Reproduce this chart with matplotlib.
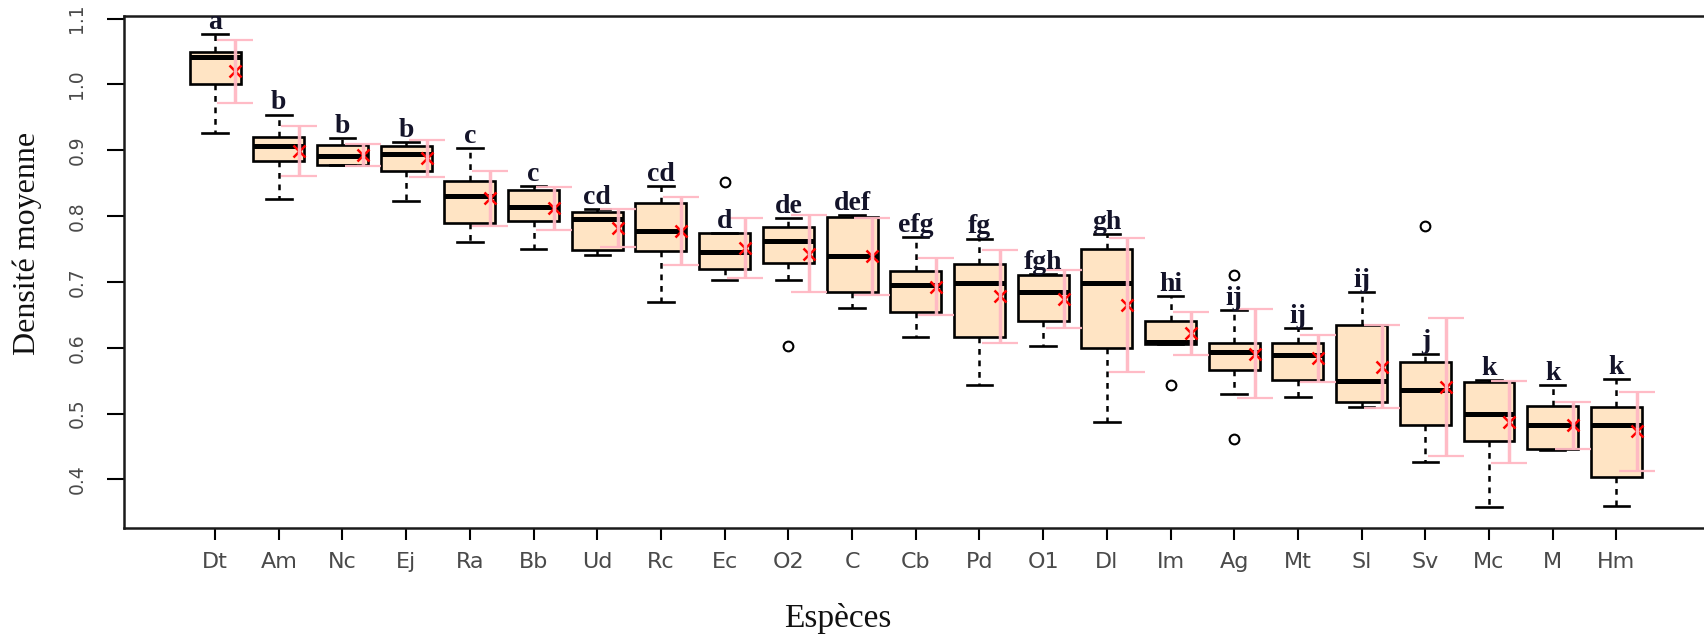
import matplotlib
matplotlib.use('Agg')
import matplotlib.pyplot as plt
from matplotlib import font_manager

# density per species
species = ['Dt', 'Am', 'Nc', 'Ej', 'Ra', 'Bb', 'Ud', 'Rc', 'Ec', 'O2', 'C', 'Cb',
           'Pd', 'O1', 'Dl', 'Im', 'Ag', 'Mt', 'Sl', 'Sv', 'Mc', 'M', 'Hm']
letters = ['a', 'b', 'b', 'b', 'c', 'c', 'cd', 'cd', 'd', 'de', 'def', 'efg',
           'fg', 'fgh', 'gh', 'hi', 'ij', 'ij', 'ij', 'j', 'k', 'k', 'k']

whis_lo = [0.926, 0.826, 0.877, 0.823, 0.760, 0.750, 0.741, 0.670, 0.703, 0.703, 0.660, 0.617,
           0.544, 0.603, 0.488, 0.605, 0.530, 0.525, 0.510, 0.427, 0.358, 0.445, 0.360]
q1 = [1.000, 0.883, 0.877, 0.869, 0.789, 0.793, 0.749, 0.747, 0.720, 0.729, 0.684, 0.655,
      0.617, 0.640, 0.600, 0.606, 0.567, 0.551, 0.517, 0.482, 0.458, 0.446, 0.403]
median = [1.041, 0.907, 0.892, 0.894, 0.831, 0.814, 0.796, 0.778, 0.745, 0.762, 0.740, 0.695,
          0.698, 0.685, 0.698, 0.609, 0.594, 0.589, 0.549, 0.536, 0.500, 0.482, 0.482]
q3 = [1.050, 0.920, 0.908, 0.907, 0.853, 0.840, 0.807, 0.820, 0.774, 0.784, 0.799, 0.716,
      0.727, 0.710, 0.750, 0.640, 0.608, 0.608, 0.634, 0.578, 0.548, 0.511, 0.510]
whis_hi = [1.077, 0.954, 0.918, 0.912, 0.903, 0.846, 0.811, 0.846, 0.774, 0.797, 0.802, 0.768,
           0.766, 0.712, 0.773, 0.678, 0.657, 0.630, 0.684, 0.591, 0.551, 0.543, 0.552]
outliers = {'Ec': [0.852], 'O2': [0.602], 'Im': [0.544], 'Ag': [0.710, 0.462], 'Sv': [0.785]}

means = [1.020, 0.899, 0.893, 0.888, 0.827, 0.812, 0.782, 0.777, 0.751, 0.743, 0.739, 0.693,
         0.678, 0.674, 0.665, 0.622, 0.591, 0.584, 0.571, 0.540, 0.487, 0.482, 0.473]
mean_err = [0.048, 0.0385, 0.0165, 0.028, 0.042, 0.0325, 0.029, 0.052, 0.0455, 0.059, 0.0585, 0.0435,
            0.071, 0.044, 0.102, 0.033, 0.068, 0.0355, 0.063, 0.105, 0.062, 0.0355, 0.0605]

yticks = [0.4, 0.5, 0.6, 0.7, 0.8, 0.9, 1.0, 1.1]

installed = {f.name for f in font_manager.fontManager.ttflist}
if 'Liberation Sans Narrow' in installed:
    tick_font, xsize, ysize = 'Liberation Sans Narrow', 20, 17
else:
    tick_font, xsize, ysize = 'DejaVu Sans', 16, 13.5
serif = ['Liberation Serif', 'DejaVu Serif']

fig = plt.figure(figsize=(17.04, 6.34), dpi=100)
ax = fig.add_axes([124 / 1704, 1 - 527.5 / 634, 1583.5 / 1704, 511.5 / 634])

positions = list(range(1, len(species) + 1))
stats = []
for i, sp in enumerate(species):
    stats.append(dict(label=sp, whislo=whis_lo[i], q1=q1[i], med=median[i], q3=q3[i],
                      whishi=whis_hi[i], fliers=outliers.get(sp, [])))

ax.bxp(stats, positions=positions, widths=0.8, capwidths=0.4, patch_artist=True,
       boxprops=dict(facecolor='#FFE4C4', edgecolor='black', linewidth=1.9),
       medianprops=dict(color='black', linewidth=3.6),
       whiskerprops=dict(color='black', linewidth=1.8, linestyle=(0, (2.3, 2.3))),
       capprops=dict(color='black', linewidth=1.9),
       flierprops=dict(marker='o', markerfacecolor='none', markeredgecolor='black',
                       markersize=7, markeredgewidth=1.5))

# mean + error bar, shifted to the right side of each box
xm = [p + 0.32 for p in positions]
ax.plot(xm, means, linestyle='none', marker='x', color='red', ms=9, mew=1.8, zorder=4)
ax.errorbar(xm, means, yerr=mean_err, fmt='none', ecolor='#ffb8c3', elinewidth=2.5,
            capsize=13, capthick=1.6, alpha=0.95, zorder=5)

# significance letters
for p, top, lab in zip(positions, whis_hi, letters):
    ax.text(p, top + 0.008, lab, ha='center', va='baseline', fontsize=20, fontweight='bold',
            family=serif, color='#14142a', zorder=6)

ax.set_xlim(-0.43, 24.43)
ax.set_ylim(0.327, 1.104)
ax.set_xticks(positions)
ax.set_xticklabels(species)
ax.set_yticks(yticks)
ax.yaxis.set_major_formatter('{x:.1f}')

ax.spines['right'].set_visible(False)
for s in ['left', 'bottom', 'top']:
    ax.spines[s].set_linewidth(1.8)
    ax.spines[s].set_color('#1a1a1a')

ax.tick_params(axis='x', length=8.4, width=1.5, pad=9, labelsize=xsize,
               labelcolor='#4a4a4a', labelfontfamily=tick_font)
ax.tick_params(axis='y', length=12, width=1.5, pad=15, labelsize=ysize,
               labelcolor='#4a4a4a', labelfontfamily=tick_font, labelrotation=90)
for lab in ax.get_yticklabels():
    lab.set_va('center')

ax.set_ylabel('Densité moyenne', fontsize=23, family=serif, color='#111111')
ax.yaxis.set_label_coords(-0.0613, 0.556)
ax.yaxis.label.set_va('center')
ax.set_xlabel('Espèces', fontsize=24, family=serif, color='#111111')
ax.xaxis.set_label_coords(0.451, -0.177)
ax.xaxis.label.set_va('center')

fig.savefig('out.png', dpi=100)
